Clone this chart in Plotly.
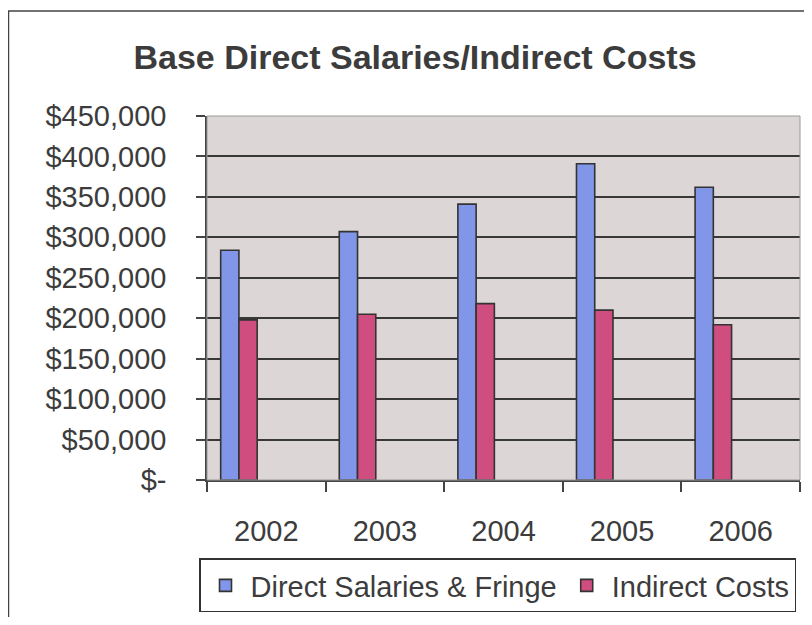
import plotly.graph_objects as go

years = ["2002", "2003", "2004", "2005", "2006"]
direct_salaries = [284000, 307000, 341000, 391000, 362000]
indirect_costs = [198000, 205000, 218000, 210000, 192000]
y_tick_values = [0, 50000, 100000, 150000, 200000, 250000, 300000, 350000, 400000, 450000]
y_tick_labels = ["$-", "$50,000", "$100,000", "$150,000", "$200,000", "$250,000",
                 "$300,000", "$350,000", "$400,000", "$450,000"]

OFF = 8  # browser body margin
W, H = 812 - 2 * OFF, 625 - 2 * OFF
L, T = 207 - OFF, 116 - OFF
R = (W + OFF) - 800
B = (H + OFF) - 487
pw, ph = W - L - R, H - T - B

def px_x(x):
    return (x - OFF - L) / pw

def px_y(y):
    return (H - B - (y - OFF)) / ph

bar_w = 1 / 6.5
start = -0.5 + 0.75 / 6.5
line_col = "#333333"
text_col = "#3c3c3c"

fig = go.Figure()
fig.add_trace(go.Bar(
    x=years, y=direct_salaries, name="Direct Salaries & Fringe",
    marker=dict(color="#8196e8", line=dict(color=line_col, width=1.6)),
    width=bar_w, offset=start,
))
fig.add_trace(go.Bar(
    x=years, y=indirect_costs, name="Indirect Costs",
    marker=dict(color="#d04d80", line=dict(color=line_col, width=1.6)),
    width=bar_w, offset=start + bar_w,
))

fig.update_layout(
    width=W, height=H,
    margin=dict(l=L, r=R, t=T, b=B, pad=0),
    paper_bgcolor="white",
    plot_bgcolor="#ddd6d6",
    barmode="overlay",
    font=dict(family="Liberation Sans, Arial", color=text_col, size=29),
    title=dict(
        text="<b>Base Direct Salaries/Indirect Costs</b>",
        font=dict(family="Liberation Sans, Arial", size=34, color=text_col),
        x=(415 - OFF) / W, xref="container", xanchor="center",
        y=1 - (57 - OFF) / H, yref="container", yanchor="middle",
    ),
    xaxis=dict(
        type="category", range=[-0.5, 4.5],
        showline=True, linecolor="#444444", linewidth=1.5,
        ticks="outside", tickson="boundaries", ticklen=10, tickwidth=1.5, tickcolor="#444444",
        ticklabelstandoff=24,
        showgrid=False,
        tickfont=dict(size=29, color=text_col),
    ),
    yaxis=dict(
        range=[0, 450000],
        tickvals=y_tick_values, ticktext=y_tick_labels,
        showline=True, linecolor="#444444", linewidth=1.5,
        ticks="outside", ticklen=9, tickwidth=1.5, tickcolor="#444444",
        ticklabelstandoff=24,
        showgrid=True, gridcolor="#383838", gridwidth=1.8,
        zeroline=False,
        tickfont=dict(size=29, color=text_col),
    ),
    showlegend=True,
    legend=dict(
        orientation="h",
        x=px_x(199), xanchor="left",
        y=px_y(567), yanchor="top",
        bordercolor="#333333", borderwidth=1.5,
        bgcolor="white",
        font=dict(size=29, color=text_col),
        itemwidth=40,
    ),
    shapes=[
        dict(type="rect", xref="paper", yref="paper", x0=0, x1=1, y0=0, y1=1,
             line=dict(color="#9a9a9a", width=1), layer="above"),
        dict(type="rect", xref="paper", yref="paper",
             x0=px_x(8.5), x1=px_x(830), y0=px_y(650), y1=px_y(9),
             line=dict(color="#444444", width=1.5)),
    ],
)

fig.write_html("out.html")
